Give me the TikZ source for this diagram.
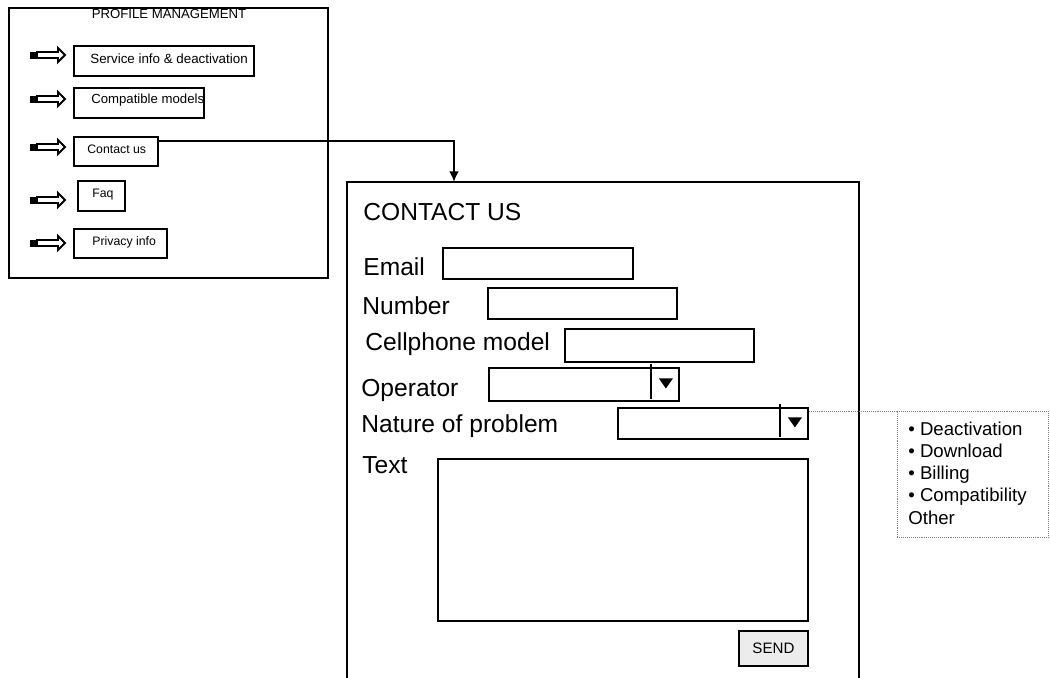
\documentclass[tikz,border=0pt]{standalone}
\usepackage{fontspec}
\setmainfont{Liberation Sans}
\usetikzlibrary{arrows.meta,calc,positioning}

\begin{document}
\begin{tikzpicture}[x=0.02cm, y=-0.02cm,
  box/.style={draw, line width=1.1pt, inner sep=0pt, anchor=north west},
  btntext/.style={font=\fontsize{7}{8}\selectfont, anchor=base west, inner sep=0pt},
  formlabel/.style={font=\fontsize{14}{16}\selectfont, anchor=base west, inner sep=0pt},
  listitem/.style={font=\fontsize{10.6}{12}\selectfont, anchor=base west, inner sep=0pt},
  dotline/.style={draw=gray, line width=0.4pt, dash pattern=on 0.5pt off 0.6pt}]
\useasboundingbox (0,0) rectangle (1050,677);
%
% profile menu
\node[box, minimum width=6.38cm, minimum height=5.4cm] (prof) at (8,7) {};
\node[btntext, font=\fontsize{7.5}{9}\selectfont, anchor=base] (title) at (169,18) {PROFILE MANAGEMENT};
%
\node[box, minimum width=3.6cm, minimum height=0.6cm] (svc) at (73,45) {};
\node[btntext, font=\fontsize{7.6}{9}\selectfont] (svct) at (90,63) {Service info \& deactivation};
\node[box, minimum width=2.6cm, minimum height=0.6cm] (cmp) at (73,87) {};
\node[btntext, font=\fontsize{7.5}{9}\selectfont] (cmpt) at (91,103) {Compatible models};
\node[box, minimum width=1.68cm, minimum height=0.58cm] (cnt) at (73,136) {};
\node[btntext] (cntt) at (87,153) {Contact us};
\node[box, minimum width=0.94cm, minimum height=0.6cm] (faq) at (77,180) {};
\node[btntext] (faqt) at (92,197) {Faq};
\node[box, minimum width=1.86cm, minimum height=0.58cm] (prv) at (73,228) {};
\node[btntext] (prvt) at (92,245) {Privacy info};
%
% block arrows in front of the entries
\foreach \y in {55,99,147,200,243}{
  \fill (29.5,\y-3.5) rectangle (37,\y+3.5);
  \draw[line width=1.1pt] (37,\y-3) -- (58,\y-3) -- (58,\y-7) -- (65,\y) -- (58,\y+7) -- (58,\y+3) -- (37,\y+3) -- cycle;
}
%
% contact form, open at the bottom
\coordinate (ctop) at (454,182);
\draw[line width=1.1pt] (347,680) -- (347,182) -- (859,182) -- (859,680);
\draw[line width=1.1pt, -{Latex[length=6pt,width=5.5pt]}] ($(cnt.north east)+(0,5)$) -| (ctop);
%
\node[formlabel] (ctitle) at (363,220) {CONTACT US};
\node[formlabel] (lemail) at (363,275) {Email};
\node[box, minimum width=3.8cm, minimum height=0.62cm] (email) at (442,247) {};
\node[formlabel] (lnum) at (362,314) {Number};
\node[box, minimum width=3.78cm, minimum height=0.62cm] (number) at (487,287) {};
\node[formlabel] (lcell) at (365,350) {Cellphone model};
\node[box, minimum width=3.78cm, minimum height=0.66cm] (cell) at (564,328) {};
\node[formlabel] (loper) at (361,396) {Operator};
\node[box, minimum width=3.8cm, minimum height=0.66cm] (oper) at (488,367) {};
\node[formlabel] (lnat) at (361,432) {Nature of problem};
\node[box, minimum width=3.8cm, minimum height=0.62cm] (nature) at (617,407) {};
\node[formlabel] (ltext) at (362,473) {Text};
\node[box, minimum width=7.4cm, minimum height=3.24cm] (msg) at (437,458) {};
\node[box, fill=gray!15, minimum width=1.38cm, minimum height=0.7cm, font=\fontsize{8.6}{10}\selectfont] (send) at (738,630) {SEND};
%
% drop-down markers
\foreach \f in {oper,nature}{
  \draw[line width=1.1pt] ($(\f.north east)+(-29,-3)$) -- ($(\f.south east)+(-29,-3)$);
  \fill ($(\f.east)+(-21,-6)$) -- ($(\f.east)+(-7,-6)$) -- ($(\f.east)+(-14,4)$) -- cycle;
}
%
% choices of the problem list
\node[box, dotline, minimum width=3.02cm, minimum height=2.52cm] (opts) at (897,411) {};
\draw[dotline] ($(nature.north east)+(0,4)$) -- (opts.north west);
\foreach \item [count=\i] in {• Deactivation, • Download, • Billing, • Compatibility, Other}
  \node[listitem] (opt\i) at (908,{435+22.3*(\i-1)}) {\item};
\end{tikzpicture}
\end{document}
